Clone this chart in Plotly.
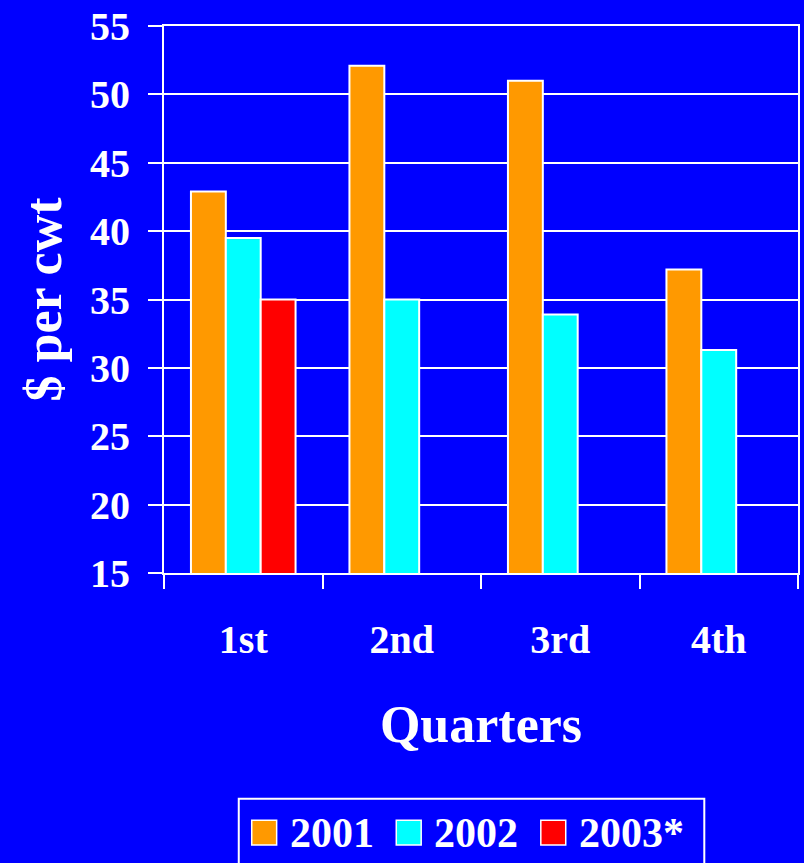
import plotly.graph_objects as go

quarters = ["1st", "2nd", "3rd", "4th"]
series_names = ["2001", "2002", "2003*"]
values_2001 = [42.9, 52.1, 51.0, 37.2]
values_2002 = [39.5, 35.0, 33.9, 31.3]
values_2003 = [35.0, None, None, None]
series_colors = ["#FF9900", "#00FFFF", "#FF0000"]
y_ticks = [15, 20, 25, 30, 35, 40, 45, 50, 55]

BG = "#0000FF"
FONT = "Liberation Serif"

fig = go.Figure()
for name, vals, col in zip(series_names, [values_2001, values_2002, values_2003], series_colors):
    fig.add_trace(go.Bar(
        x=quarters, y=vals, name=name,
        marker=dict(color=col, line=dict(color="white", width=2)),
        showlegend=False,
    ))

W, H = 804, 863
ml, mr, mt, mb = 164, 4, 23, 290
pw, ph = W - ml - mr, H - mt - mb

def px2paper_x(px):
    return (px - ml) / pw

def px2paper_y(py):
    return (H - mb - py) / ph

fig.update_layout(
    width=W, height=H,
    margin=dict(l=ml, r=mr, t=mt, b=mb),
    paper_bgcolor=BG, plot_bgcolor=BG,
    barmode="group", bargap=0.34, bargroupgap=0,
    font=dict(family=FONT, color="white", size=40, weight="bold"),
    xaxis=dict(
        showgrid=False, showline=True, linecolor="white", linewidth=2,
        ticks="outside", tickson="boundaries", ticklen=14, tickwidth=2, tickcolor="white",
        tickfont=dict(family=FONT, size=40, color="white", weight="bold"),
        ticklabelstandoff=30,
        title=dict(text="Quarters", font=dict(family=FONT, size=52, color="white", weight="bold"), standoff=45),
        mirror=True,
    ),
    yaxis=dict(
        range=[15, 55], tickvals=y_ticks, ticktext=[str(v) for v in y_ticks],
        showgrid=True, gridcolor="white", gridwidth=2,
        showline=True, linecolor="white", linewidth=2, mirror=True,
        ticks="outside", ticklen=14, tickwidth=2, tickcolor="white",
        tickfont=dict(family=FONT, size=40, color="white", weight="bold"),
        ticklabelstandoff=10,
        title=dict(text="$ per cwt", font=dict(family=FONT, size=52, color="white", weight="bold"), standoff=12),
        zeroline=False,
    ),
)

# Custom legend box (large squares as in the original)
shapes = [dict(type="rect", xref="paper", yref="paper",
               x0=px2paper_x(239), x1=px2paper_x(706),
               y0=px2paper_y(880), y1=px2paper_y(800),
               line=dict(color="white", width=2), fillcolor=BG, layer="above")]
annotations = []
item_left = 252
item_step = 145
sq = 25
cy = 834
for i, (name, col) in enumerate(zip(series_names, series_colors)):
    x0 = item_left + i * item_step
    shapes.append(dict(type="rect", xref="paper", yref="paper",
                       x0=px2paper_x(x0), x1=px2paper_x(x0 + sq),
                       y0=px2paper_y(cy + sq / 2), y1=px2paper_y(cy - sq / 2),
                       line=dict(color="white", width=1.5), fillcolor=col, layer="above"))
    annotations.append(dict(xref="paper", yref="paper",
                            x=px2paper_x(x0 + 36), y=px2paper_y(cy),
                            xanchor="left", yanchor="middle", showarrow=False,
                            text=name,
                            font=dict(family=FONT, size=42, color="white", weight="bold")))
fig.update_layout(shapes=shapes, annotations=annotations)

fig.write_html(
    "out.html",
    config={"displayModeBar": False},
    post_script="document.body.style.margin='0';document.body.style.background='#0000FF';document.body.style.overflow='hidden';",
)
